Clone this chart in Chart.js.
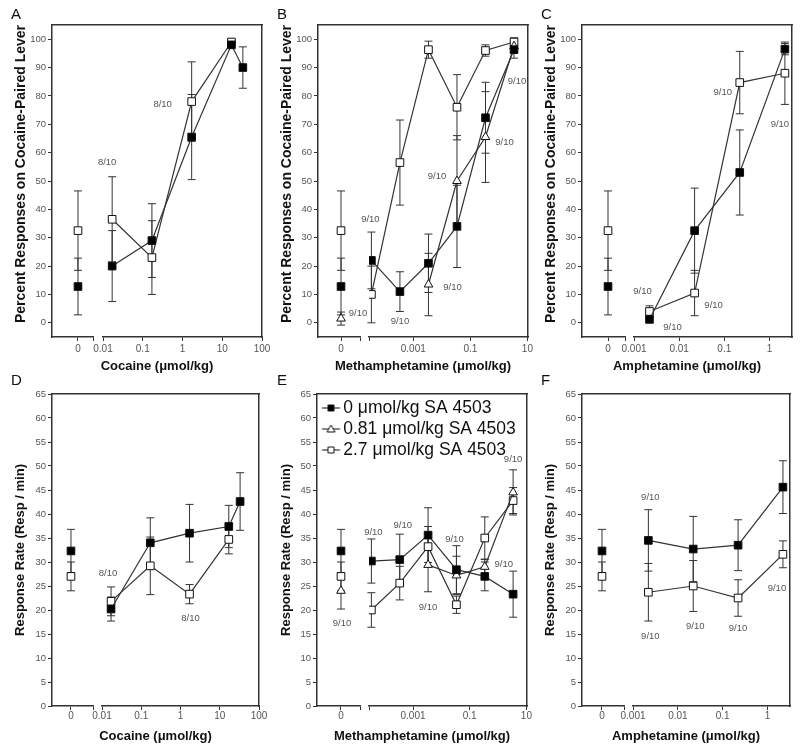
<!DOCTYPE html>
<html>
<head>
<meta charset="utf-8">
<script src="https://cdn.jsdelivr.net/npm/chart.js@4.4.1/dist/chart.umd.min.js"></script>
<style>
  html, body { margin: 0; background: #fff; }
  #fig { position: relative; width: 800px; height: 752px; overflow: hidden; }
  #fig canvas { position: absolute; }
</style>
</head>
<body>
<div id="fig"></div>
<script>
// SA 4503 pretreatment doses (one series each)
const SA_LABELS = ['0 μmol/kg SA 4503', '0.81 μmol/kg SA 4503', '2.7 μmol/kg SA 4503'];

// vehicle ("0" dose) points, one per SA 4503 dose
const VEH_PCT = [12.8, 1.5, 32.5];
const VEH_PCT_SEM = [10, 2.3, 14];
const VEH_RATE = [32.3, 24, 27];
const VEH_RATE_SEM = [4.5, 3.8, 3];

// cocaine
const COC_DOSES = [0.017, 0.17, 1.7, 17, 33];
const COC_PCT_0 = [20, 29, 65.5, 98, 90];
const COC_PCT_0_SEM = [12.5, 13, 15, 1, 7.3];
const COC_PCT_27 = [36.5, 23, 78, 99];
const COC_PCT_27_SEM = [15, 13, 14, 1];
const COC_RATE_0 = [20.2, 34, 36, 37.4, 42.6];
const COC_RATE_0_SEM = [2.5, 5.2, 6, 4.4, 6];
const COC_RATE_27 = [21.8, 29.2, 23.3, 34.7];
const COC_RATE_27_SEM = [3, 6, 2, 3];

// methamphetamine
const METH_DOSES = [0.000034, 0.00034, 0.0034, 0.034, 0.34, 3.4];
const METH_DOSES_081 = [0.0034, 0.034, 0.34, 3.4];
const METH_PCT_0 = [22, 11, 21, 34, 72.3, 96.3];
const METH_PCT_0_SEM = [10, 7, 10.3, 14.5, 12.5, 3];
const METH_PCT_081 = [13.5, 50, 65.5, 97.5];
const METH_PCT_081_SEM = [11, 16, 16, 2];
const METH_PCT_27 = [10, 56.5, 96.3, 76, 96, 99];
const METH_PCT_27_SEM = [10, 15, 3, 11.5, 2, 1.5];
const METH_RATE_0 = [30.2, 30.5, 35.6, 28.4, 27, 23.3];
const METH_RATE_0_SEM = [4.6, 5.3, 5.7, 5, 3, 4.8];
const METH_RATE_081 = [29.4, 27.2, 29, 44.5];
const METH_RATE_081_SEM = [5.6, 4, 1.5, 4.7];
const METH_RATE_27 = [20, 25.6, 33.2, 21.1, 35, 42.8];
const METH_RATE_27_SEM = [3.6, 3.5, 4.2, 1.8, 4.4, 2.7];

// amphetamine
const AMPH_DOSES = [0.0022, 0.022, 0.22, 2.2];
const AMPH_PCT_0 = [1.2, 32.5, 53, 96.5];
const AMPH_PCT_0_SEM = [1, 15, 15, 2];
const AMPH_PCT_27 = [4, 10.5, 84.7, 88];
const AMPH_PCT_27_SEM = [2, 8, 11, 11];
const AMPH_RATE_0 = [34.5, 32.7, 33.5, 45.6];
const AMPH_RATE_0_SEM = [6.4, 6.8, 5.3, 5.5];
const AMPH_RATE_27 = [23.7, 25, 22.5, 31.6];
const AMPH_RATE_27_SEM = [6, 5.3, 3.8, 2.8];

// tick labels
const PCT_TICKS = [0, 10, 20, 30, 40, 50, 60, 70, 80, 90, 100];
const RATE_TICKS = [0, 5, 10, 15, 20, 25, 30, 35, 40, 45, 50, 55, 60, 65];
const COC_TICKS = [0.01, 0.1, 1, 10, 100];
const COC_TICK_TEXT = ['0.01', '0.1', '1', '10', '100'];
const METH_TICKS = [0.001, 0.1, 10];
const METH_TICK_TEXT = ['0.001', '0.1', '10'];
const AMPH_TICKS = [0.001, 0.01, 0.1, 1];
const AMPH_TICK_TEXT = ['0.001', '0.01', '0.1', '1'];

Chart.defaults.font.family = '"Liberation Sans", Arial, sans-serif';
Chart.defaults.color = '#555';

const ROWS = {
  pct: { top: 0, height: 378, yMin: -5, yMax: 105, yTicks: PCT_TICKS, veh: VEH_PCT, vehSem: VEH_PCT_SEM,
         yTitle: 'Percent Responses on Cocaine-Paired Lever', yTitleSize: 14, yTitleAlign: 'end',
         letterPad: {top: 6, bottom: 1}, tickPad: 2, xTitlePad: 2, padBottom: 3.4 },
  rate: { top: 370, height: 382, yMin: 0, yMax: 65, yTicks: RATE_TICKS, veh: VEH_RATE, vehSem: VEH_RATE_SEM,
          yTitle: 'Response Rate (Resp / min)', yTitleSize: 13, yTitleAlign: 'center',
          letterPad: {top: 2, bottom: 4}, tickPad: 0, xTitlePad: 7, padBottom: 7.4 }
};

const STYLE = {
  sa0:   { idx: 0, pointStyle: 'rect', fill: '#000', radius: 5.4 },
  sa081: { idx: 1, pointStyle: 'triangle', fill: '#fff', radius: 5 },
  sa27:  { idx: 2, pointStyle: 'rect', fill: '#fff', radius: 5.4 }
};

// notes: [series, point index (-1 = vehicle), text, dx, dy]
const PANELS = [
  { letter: 'A', row: 'pct', drug: 'Cocaine (μmol/kg)', left: 0, width: 274, frame: [52, 262],
    seg: [41, 10, 159], zeroAt: 0.634, logRange: [0.01, 100], ticks: COC_TICKS, tickText: COC_TICK_TEXT,
    series: [['sa0', COC_DOSES, COC_PCT_0, COC_PCT_0_SEM], ['sa27', COC_DOSES, COC_PCT_27, COC_PCT_27_SEM]],
    notes: [['sa27', 0, '8/10', -5, -57], ['sa27', 2, '8/10', -29, 3]] },
  { letter: 'B', row: 'pct', drug: 'Methamphetamine (μmol/kg)', left: 266, width: 272, frame: [318, 528],
    seg: [42, 9, 159], zeroAt: 0.548, logRange: [0.000028, 10.5], ticks: METH_TICKS, tickText: METH_TICK_TEXT,
    series: [['sa0', METH_DOSES, METH_PCT_0, METH_PCT_0_SEM], ['sa081', METH_DOSES_081, METH_PCT_081, METH_PCT_081_SEM],
             ['sa27', METH_DOSES, METH_PCT_27, METH_PCT_27_SEM]],
    notes: [['sa081', -1, '9/10', 17, -5], ['sa27', 0, '9/10', -1, -75], ['sa0', 1, '9/10', 0, 30],
            ['sa081', 0, '9/10', 24, 3], ['sa081', 1, '9/10', -20, -5], ['sa081', 2, '9/10', 19, 5],
            ['sa081', 3, '9/10', 3, 35]] },
  { letter: 'C', row: 'pct', drug: 'Amphetamine (μmol/kg)', left: 530, width: 270, frame: [582, 792],
    seg: [43, 9, 158], zeroAt: 0.605, logRange: [0.001, 3.16], ticks: AMPH_TICKS, tickText: AMPH_TICK_TEXT,
    series: [['sa0', AMPH_DOSES, AMPH_PCT_0, AMPH_PCT_0_SEM], ['sa27', AMPH_DOSES, AMPH_PCT_27, AMPH_PCT_27_SEM]],
    notes: [['sa27', 0, '9/10', -7, -20], ['sa0', 0, '9/10', 23, 8], ['sa27', 1, '9/10', 19, 12],
            ['sa27', 2, '9/10', -17, 10], ['sa27', 3, '9/10', -5, 51]] },
  { letter: 'D', row: 'rate', drug: 'Cocaine (μmol/kg)', left: 0, width: 274, frame: [52, 259],
    seg: [41, 9, 157], zeroAt: 0.463, logRange: [0.01, 100], ticks: COC_TICKS, tickText: COC_TICK_TEXT,
    series: [['sa0', COC_DOSES, COC_RATE_0, COC_RATE_0_SEM], ['sa27', COC_DOSES, COC_RATE_27, COC_RATE_27_SEM]],
    notes: [['sa27', 0, '8/10', -3, -28], ['sa27', 2, '8/10', 1, 24]] },
  { letter: 'E', row: 'rate', drug: 'Methamphetamine (μmol/kg)', left: 266, width: 272, frame: [317, 527],
    seg: [43, 9, 158], zeroAt: 0.558, logRange: [0.000028, 10.5], ticks: METH_TICKS, tickText: METH_TICK_TEXT,
    legend: true,
    series: [['sa0', METH_DOSES, METH_RATE_0, METH_RATE_0_SEM], ['sa081', METH_DOSES_081, METH_RATE_081, METH_RATE_081_SEM],
             ['sa27', METH_DOSES, METH_RATE_27, METH_RATE_27_SEM]],
    notes: [['sa081', -1, '9/10', 1, 33], ['sa0', 0, '9/10', 2, -29], ['sa0', 1, '9/10', 3, -34],
            ['sa081', 0, '9/10', 0, 42], ['sa0', 3, '9/10', -2, -30], ['sa081', 2, '9/10', 19, -2],
            ['sa081', 3, '9/10', 0, -33]] },
  { letter: 'F', row: 'rate', drug: 'Amphetamine (μmol/kg)', left: 530, width: 270, frame: [582, 790],
    seg: [42, 9, 157], zeroAt: 0.476, logRange: [0.001, 3.16], ticks: AMPH_TICKS, tickText: AMPH_TICK_TEXT,
    series: [['sa0', AMPH_DOSES, AMPH_RATE_0, AMPH_RATE_0_SEM], ['sa27', AMPH_DOSES, AMPH_RATE_27, AMPH_RATE_27_SEM]],
    notes: [['sa0', 0, '9/10', 2, -43], ['sa27', 0, '9/10', 2, 44], ['sa27', 1, '9/10', 2, 40],
            ['sa27', 2, '9/10', 0, 30], ['sa27', 3, '9/10', -6, 34]] }
];

const CAP = 4;
const errorBars = {
  id: 'errorBars',
  beforeDatasetsDraw(chart) {
    const ctx = chart.ctx;
    const y = chart.scales.y;
    ctx.save();
    ctx.strokeStyle = '#333';
    ctx.lineWidth = 1;
    chart.data.datasets.forEach((ds, i) => {
      const meta = chart.getDatasetMeta(i);
      meta.data.forEach((pt, j) => {
        const e = ds.errors[j];
        if (!e) return;
        const v = ds.data[j].y;
        const top = y.getPixelForValue(v + e);
        const bot = y.getPixelForValue(v - e);
        ctx.beginPath();
        ctx.moveTo(pt.x, top); ctx.lineTo(pt.x, bot);
        ctx.moveTo(pt.x - CAP, top); ctx.lineTo(pt.x + CAP, top);
        ctx.moveTo(pt.x - CAP, bot); ctx.lineTo(pt.x + CAP, bot);
        ctx.stroke();
      });
    });
    ctx.restore();
  }
};

function notesPlugin(notes) {
  return {
    id: 'notes',
    afterDatasetsDraw(chart) {
      const ctx = chart.ctx;
      ctx.save();
      ctx.font = '9.5px "Liberation Sans", Arial, sans-serif';
      ctx.fillStyle = '#555';
      ctx.textAlign = 'center';
      ctx.textBaseline = 'middle';
      notes.forEach(([key, idx, text, dx, dy]) => {
        const di = chart.data.datasets.findIndex(d => d.key === key && !!d.isVehicle === (idx < 0));
        const pt = chart.getDatasetMeta(di).data[Math.max(idx, 0)];
        ctx.fillText(text, pt.x + dx, pt.y + dy);
      });
      ctx.restore();
    }
  };
}

// little "-■-" glyph for the legend
function legendIcon(ds) {
  const c = document.createElement('canvas');
  c.width = 30; c.height = 14;
  const g = c.getContext('2d');
  g.strokeStyle = '#333';
  g.lineWidth = 1.2;
  g.beginPath(); g.moveTo(9.5, 7); g.lineTo(27.5, 7); g.stroke();
  g.fillStyle = ds.pointBackgroundColor;
  g.strokeStyle = '#111';
  g.lineWidth = 1;
  g.beginPath();
  if (ds.pointStyle === 'triangle') {
    g.moveTo(18.5, 3); g.lineTo(22.5, 10); g.lineTo(14.5, 10); g.closePath();
  } else {
    g.rect(15.5, 4, 6, 6);
  }
  g.fill(); g.stroke();
  return c;
}

const fig = document.getElementById('fig');

PANELS.forEach(p => {
  const row = ROWS[p.row];
  const cv = document.createElement('canvas');
  cv.width = p.width;
  cv.height = row.height;
  cv.style.left = p.left + 'px';
  cv.style.top = row.top + 'px';
  fig.appendChild(cv);

  const datasets = [];
  p.series.forEach(([key, doses, vals, sems]) => {
    const st = STYLE[key];
    const common = {
      label: SA_LABELS[st.idx], key,
      pointStyle: st.pointStyle, pointRadius: st.radius, pointHoverRadius: st.radius,
      pointBackgroundColor: st.fill, pointBorderColor: '#111', pointBorderWidth: 1,
      borderColor: '#333', borderWidth: 1.2, tension: 0, yAxisID: 'y'
    };
    datasets.push({ ...common, xAxisID: 'x0', isVehicle: true, showLine: false,
      data: [{ x: 0, y: row.veh[st.idx] }], errors: [row.vehSem[st.idx]] });
    datasets.push({ ...common, xAxisID: 'x',
      data: vals.map((v, i) => ({ x: doses[i], y: v })), errors: sems });
  });

  const tickVals = p.ticks.slice();
  const tickText = p.tickText.slice();
  if (tickVals[0] > p.logRange[0]) { tickVals.unshift(p.logRange[0]); tickText.unshift(''); }

  const tickFont = { size: 10 };
  const axisLine = { color: '#333', width: 1.5 };
  const tickGrid = { drawOnChartArea: false, tickLength: 4, color: '#333', lineWidth: 1 };
  const bare = { display: false, drawTicks: false };

  new Chart(cv, {
    type: 'line',
    data: { datasets },
    options: {
      responsive: false,
      animation: false,
      events: [],
      layout: { padding: { left: 11, right: p.width - (p.frame[1] - p.left), top: 0, bottom: row.padBottom } },
      scales: {
        x0: {
          type: 'linear', axis: 'x', position: 'bottom', stack: 'dose', stackWeight: p.seg[0], weight: 1,
          min: -p.zeroAt, max: 1 - p.zeroAt,
          afterBuildTicks: s => { s.ticks = [{ value: 0 }, { value: 1 - p.zeroAt }]; },
          ticks: { callback: (v, i) => (i === 0 ? '0' : ''), autoSkip: false, maxRotation: 0, minRotation: 0,
                   padding: row.tickPad, color: '#555', font: tickFont },
          grid: tickGrid, border: axisLine
        },
        xGap: {
          type: 'linear', axis: 'x', position: 'bottom', stack: 'dose', stackWeight: p.seg[1], weight: 2,
          min: 0, max: 1, ticks: { display: false }, grid: bare, border: { display: false }
        },
        x: {
          type: 'logarithmic', axis: 'x', position: 'bottom', stack: 'dose', stackWeight: p.seg[2], weight: 3,
          min: p.logRange[0], max: p.logRange[1],
          afterBuildTicks: s => { s.ticks = tickVals.map(v => ({ value: v })); },
          ticks: { callback: (v, i) => tickText[i], autoSkip: false, maxRotation: 0, minRotation: 0,
                   padding: row.tickPad, color: '#555', font: tickFont },
          grid: tickGrid, border: axisLine
        },
        xTop: {
          type: 'linear', axis: 'x', position: 'top', min: 0, max: 1,
          ticks: { display: false }, grid: bare, border: axisLine,
          afterFit: s => { s.height = 0; }
        },
        y: {
          type: 'linear', position: 'left', min: row.yMin, max: row.yMax,
          afterBuildTicks: s => { s.ticks = row.yTicks.map(v => ({ value: v })); },
          afterFit: s => { s.width = p.frame[0] - p.left - 11; },
          ticks: { autoSkip: false, padding: 2, color: '#555', font: { size: 9.5 } },
          grid: tickGrid, border: axisLine,
          title: { display: true, text: row.yTitle, color: '#111', align: row.yTitleAlign,
                   font: { size: row.yTitleSize, weight: 'bold' }, padding: { top: 2, bottom: 0 } }
        },
        yRight: {
          type: 'linear', position: 'right', min: 0, max: 1,
          ticks: { display: false }, grid: bare, border: axisLine,
          afterFit: s => { s.width = 0; }
        }
      },
      plugins: {
        title: { display: true, text: p.letter, position: 'top', align: 'start', color: '#111',
                 font: { size: 15, weight: 'normal' }, padding: row.letterPad },
        subtitle: { display: true, text: p.drug, position: 'bottom', fullSize: false, color: '#111',
                    font: { size: 13, weight: 'bold' }, padding: { top: row.xTitlePad, bottom: 0 } },
        legend: {
          display: !!p.legend, position: 'chartArea', align: 'start',
          // an empty title pushes the list down into the plot frame
          title: { display: true, text: ' ', font: { size: 1 }, padding: { top: 24.5, bottom: 0 } },
          labels: {
            usePointStyle: true, pointStyleWidth: 14, padding: 3.5, color: '#111', font: { size: 17.5 },
            generateLabels: chart => chart.data.datasets
              .map((ds, i) => ({ text: ds.label, pointStyle: legendIcon(ds), datasetIndex: i, hidden: false,
                                 fontColor: '#111', lineWidth: 0,
                                 strokeStyle: 'rgba(0,0,0,0)', fillStyle: 'rgba(0,0,0,0)' }))
              .filter(it => !chart.data.datasets[it.datasetIndex].isVehicle)
          }
        },
        tooltip: { enabled: false }
      }
    },
    plugins: [errorBars, notesPlugin(p.notes)]
  });
});
</script>
</body>
</html>
